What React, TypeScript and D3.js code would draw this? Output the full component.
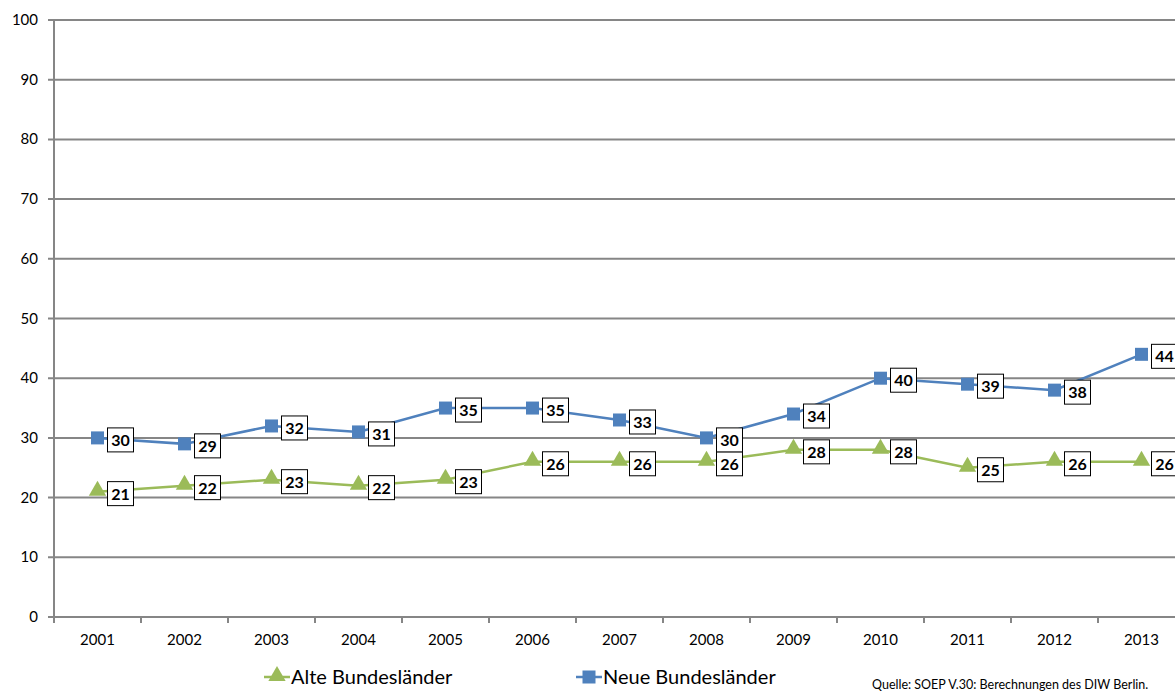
import React from 'react';
import * as d3 from 'd3';

const years = ['2001', '2002', '2003', '2004', '2005', '2006', '2007', '2008', '2009', '2010', '2011', '2012', '2013'];
const neue = [30, 29, 32, 31, 35, 35, 33, 30, 34, 40, 39, 38, 44];
const alte = [21, 22, 23, 22, 23, 26, 26, 26, 28, 28, 25, 26, 26];
const yTicks = [0, 10, 20, 30, 40, 50, 60, 70, 80, 90, 100];

const BLUE = '#4F81BD';
const GREEN = '#9BBB59';
const GRID = '#868686';
const FONT = 'Lato, "Open Sans", sans-serif';

const W = 1175;
const H = 691;
const left = 54;
const top = 20;
const bottom = 617;

export default function App() {
  const x = d3.scaleBand<string>().domain(years).range([left, left + 13 * 87]);
  const y = d3.scaleLinear().domain([0, 100]).range([bottom, top]);
  const cx = (yr: string) => (x(yr) as number) + x.bandwidth() / 2;

  const line = d3.line<number>()
    .x((_, i) => cx(years[i]))
    .y(d => y(d));

  const tri = d3.symbol().type(d3.symbolTriangle).size(130)();

  const label = (v: number, i: number, key: string) => {
    const px = cx(years[i]);
    const py = y(v);
    return (
      <g key={key}>
        <rect x={px + 10} y={py - 10} width={26} height={24} fill="#fff" stroke="#000" strokeWidth={1} />
        <text x={px + 23} y={py + 8} textAnchor="middle" fontFamily={FONT} fontWeight="bold" fontSize={16} fill="#000">{v}</text>
      </g>
    );
  };

  return (
    <svg width={W} height={H} style={{ position: 'absolute', left: 0, top: 0, background: '#fff' }}>
      {yTicks.map(t => (
        <g key={t}>
          <line x1={left - 6} x2={W} y1={y(t)} y2={y(t)} stroke={GRID} strokeWidth={2} />
          <text x={38} y={y(t) + 5} textAnchor="end" fontFamily={FONT} fontSize={15} fill="#000">{t}</text>
        </g>
      ))}
      <line x1={left} x2={left} y1={top} y2={bottom} stroke={GRID} strokeWidth={2} />
      {years.map((yr, i) => (
        <g key={yr}>
          <line x1={(x(yr) as number) + x.bandwidth()} x2={(x(yr) as number) + x.bandwidth()} y1={bottom} y2={bottom + 6} stroke={GRID} strokeWidth={2} />
          {i === 0 && <line x1={left} x2={left} y1={bottom} y2={bottom + 6} stroke={GRID} strokeWidth={2} />}
          <text x={cx(yr)} y={bottom + 28} textAnchor="middle" fontFamily={FONT} fontSize={15} fill="#000">{yr}</text>
        </g>
      ))}

      <path d={line(alte) || ''} fill="none" stroke={GREEN} strokeWidth={2.5} />
      <path d={line(neue) || ''} fill="none" stroke={BLUE} strokeWidth={2.5} />
      {alte.map((v, i) => (
        <path key={'ta' + i} d={tri || ''} transform={`translate(${cx(years[i])},${y(v) - 1})`} fill={GREEN} />
      ))}
      {neue.map((v, i) => (
        <rect key={'sn' + i} x={cx(years[i]) - 6.5} y={y(v) - 6.5} width={13} height={13} fill={BLUE} />
      ))}
      {alte.map((v, i) => label(v, i, 'la' + i))}
      {neue.map((v, i) => label(v, i, 'ln' + i))}

      <g transform="translate(264,677)">
        <line x1={0} x2={26} y1={0} y2={0} stroke={GREEN} strokeWidth={2.5} />
        <path d={tri || ''} transform="translate(13,-1)" fill={GREEN} />
        <text x={27} y={7} fontFamily={FONT} fontSize={20} fill="#000">Alte Bundesländer</text>
      </g>
      <g transform="translate(576,677)">
        <line x1={0} x2={26} y1={0} y2={0} stroke={BLUE} strokeWidth={2.5} />
        <rect x={6.5} y={-6.5} width={13} height={13} fill={BLUE} />
        <text x={27} y={7} fontFamily={FONT} fontSize={20} fill="#000">Neue Bundesländer</text>
      </g>
      <text x={872} y={689} fontFamily={FONT} fontSize={12.5} fill="#000">Quelle: SOEP V.30: Berechnungen des DIW Berlin.</text>
    </svg>
  );
}
